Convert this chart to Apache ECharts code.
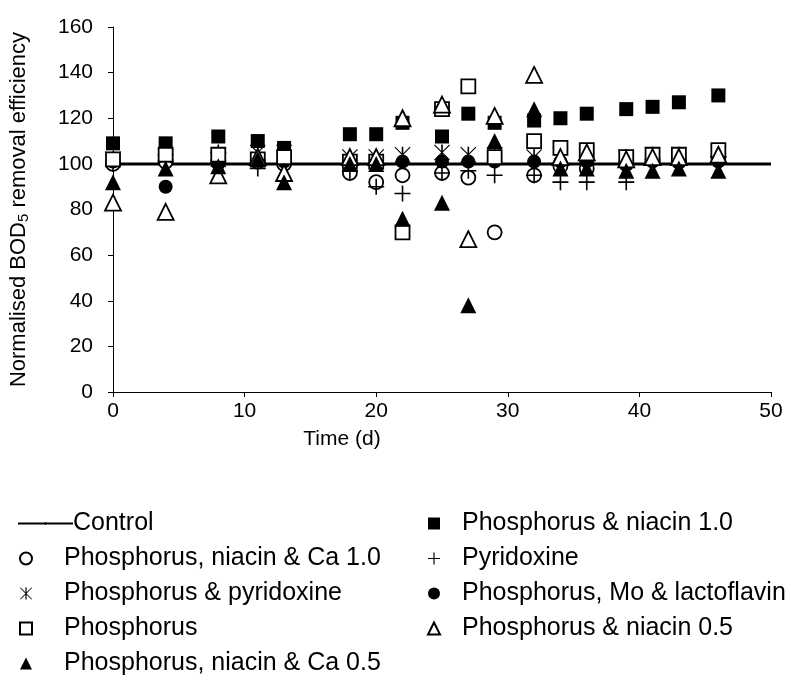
<!DOCTYPE html>
<html>
<head>
<meta charset="utf-8">
<script src="https://cdn.jsdelivr.net/npm/echarts@6/dist/echarts.min.js"></script>
<style>
  html, body { margin: 0; padding: 0; background: #fff; }
  #chart { width: 791px; height: 693px; }
</style>
</head>
<body>
<div id="chart"></div>
<script>
// sampling days
var times = [0, 4, 8, 11, 13, 18, 20, 22, 25, 27, 29, 32, 34, 36, 39, 41, 43, 46];

// control reference line
var controlX = [0, 50];
var controlY = [100, 100];

// normalised BOD5 removal efficiency per treatment
var pNiacin10 = [109, 109, 112, 110, 107, 113, 113, 118, 112, 122, 118, 119, 120, 122, 124, 125, 127, 130];
var pNiacinCa10 = [100, 101, 101, 101, 100, 96, 92, 95, 96, 94, 70, 95, 99, 98, 100, 102, 101, 103];
var pyridoxine = [100, 104, 105, 98, 100, 97, 90, 87, 96, 97, 95, 95, 92, 92, 92, 101, 101, 103];
var pPyridoxine = [102, 103, 102, 105, 105, 103, 103, 104, 105, 104, 104, 103, 104, 104, 103, 104, 104, 105];
var pMoLacto = [101, 90, 100, 102, 101, 100, 100, 101, 101, 101, 101, 101, 101, 101, 100, 101, 101, 101];
var phosphorus = [102, 104, 104, 102, 103, 101, 101, 70, 124, 134, 103, 110, 107, 106, 103, 104, 104, 106];
var pNiacin05 = [83, 79, 95, 103, 96, 103, 103, 120, 126, 67, 121, 139, 103, 105, 102, 103, 103, 104];
var pNiacinCa05 = [92, 98, 99, 102, 92, 100, 100, 76, 83, 38, 110, 124, 98, 98, 97, 97, 98, 97];

var yTicks = { min: 0, max: 160, interval: 20 };
var xTicks = { min: 0, max: 50, interval: 10 };

var FONT = "Liberation Sans";

function pairs(xs, ys) {
  return xs.map(function (x, i) { return [x, ys[i]]; });
}

var plusPath = "path://M9,0h2v9h9v2h-9v9h-2v-9h-9v-2h9z";
var starPath = "path://M9,0h2v20h-2zM1,0L20,19L19,20L0,1zM19,0L20,1L1,20L0,19z";

var filled = { color: "#000", borderWidth: 0, opacity: 1 };
var open = { color: "#fff", borderColor: "#000", borderWidth: 1.8, opacity: 1 };

function scatter(name, ys, symbol, size, style, z) {
  return {
    name: name,
    type: "scatter",
    data: pairs(times, ys),
    symbol: symbol,
    symbolSize: size,
    itemStyle: style,
    emphasis: { disabled: true },
    z: z
  };
}

var myChart = echarts.init(document.getElementById("chart"));
var option = {
  animation: false,
  backgroundColor: "#fff",
  textStyle: { fontFamily: FONT, color: "#000" },
  grid: { left: 113, right: 20, top: 27, bottom: 301 },
  xAxis: {
    type: "value",
    min: xTicks.min,
    max: xTicks.max,
    interval: xTicks.interval,
    name: "Time (d)",
    nameLocation: "middle",
    nameGap: 37,
    nameTextStyle: { fontSize: 21, fontFamily: FONT, color: "#000", padding: [0, 200, 0, 0] },
    axisLine: { onZero: false, lineStyle: { color: "#000", width: 1 } },
    axisTick: { length: 5, lineStyle: { color: "#000" } },
    axisLabel: { fontSize: 21, fontFamily: FONT, color: "#000", margin: 9 },
    splitLine: { show: false }
  },
  yAxis: {
    type: "value",
    min: yTicks.min,
    max: yTicks.max,
    interval: yTicks.interval,
    name: "{a|Normalised BOD}{s|5}{a| removal efficiency}",
    nameLocation: "middle",
    nameGap: 82,
    nameTextStyle: {
      color: "#000",
      rich: {
        a: { fontSize: 22, fontFamily: FONT, color: "#000" },
        s: { fontSize: 15, fontFamily: FONT, color: "#000", padding: [9, 0, 0, 0] }
      }
    },
    axisLine: { lineStyle: { color: "#000", width: 1 } },
    axisTick: { length: 5, lineStyle: { color: "#000" } },
    axisLabel: { fontSize: 21, fontFamily: FONT, color: "#000", margin: 20 },
    splitLine: { show: false }
  },
  legend: [
    {
      left: 12, top: 506,
      itemWidth: 55, itemHeight: 3,
      textStyle: { fontSize: 25, fontFamily: FONT, color: "#000", padding: [0, 0, 0, -5] },
      data: ["Control"]
    },
    {
      left: 14, top: 541, orient: "vertical",
      itemWidth: 12, itemHeight: 12,
      itemGap: 10,
      textStyle: { fontSize: 25, fontFamily: FONT, color: "#000", padding: [0, 0, 0, 27] },
      data: ["Phosphorus, niacin & Ca 1.0", "Phosphorus & pyridoxine", "Phosphorus", "Phosphorus, niacin & Ca 0.5"]
    },
    {
      left: 422, top: 506, orient: "vertical",
      itemWidth: 12, itemHeight: 12,
      itemGap: 10,
      textStyle: { fontSize: 25, fontFamily: FONT, color: "#000", padding: [0, 0, 0, 17] },
      data: ["Phosphorus & niacin 1.0", "Pyridoxine", "Phosphorus, Mo & lactoflavin", "Phosphorus & niacin 0.5"]
    }
  ],
  series: [
    {
      name: "Control",
      type: "line",
      data: pairs(controlX, controlY),
      symbol: "none",
      lineStyle: { color: "#000", width: 3 },
      itemStyle: { color: "#000" },
      emphasis: { disabled: true },
      z: 2
    },
    scatter("Phosphorus & niacin 1.0", pNiacin10, "rect", 14, filled, 3),
    scatter("Phosphorus, niacin & Ca 1.0", pNiacinCa10, "circle", 14, open, 4),
    scatter("Pyridoxine", pyridoxine, plusPath, 16, filled, 5),
    scatter("Phosphorus & pyridoxine", pPyridoxine, starPath, 16, filled, 6),
    scatter("Phosphorus, Mo & lactoflavin", pMoLacto, "circle", 14, filled, 7),
    scatter("Phosphorus", phosphorus, "rect", 14, open, 8),
    scatter("Phosphorus & niacin 0.5", pNiacin05, "triangle", 16, open, 9),
    scatter("Phosphorus, niacin & Ca 0.5", pNiacinCa05, "triangle", 16, filled, 10)
  ]
};
myChart.setOption(option);
window.onresize = myChart.resize;
</script>
</body>
</html>
